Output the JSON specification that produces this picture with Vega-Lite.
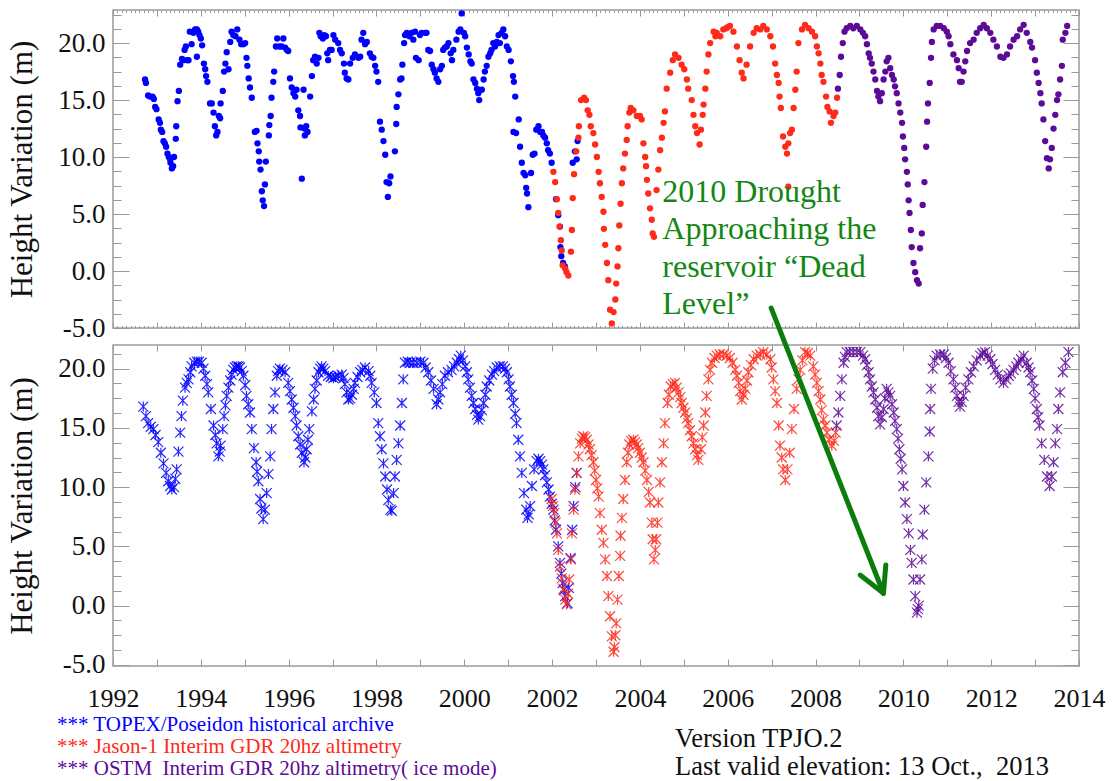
{
  "$schema": "https://vega.github.io/schema/vega-lite/v6.json",
  "background": "white",
  "padding": {"left": 5, "top": 8, "right": 5, "bottom": 0},
  "bounds": "flush",
  "spacing": 17,
  "config": {
    "view": {"stroke": "#9a9a9a", "strokeWidth": 1.5},
    "axis": {"domain": false, "grid": false, "tickColor": "#999999", "tickWidth": 1, "labelFont": "Liberation Serif", "labelFontSize": 27, "labelColor": "#111111", "titleFont": "Liberation Serif", "titleFontSize": 31, "titleFontWeight": "normal", "titleColor": "#111111", "labelFlush": false, "labelOverlap": false}
  },
  "datasets": {
    "top": [
      {"t":1992.73,"h":16.8,"s":"T"},{"t":1992.75,"h":16.5,"s":"T"},{"t":1992.80,"h":15.4,"s":"T"},{"t":1992.84,"h":15.3,"s":"T"},{"t":1992.90,"h":15.3,"s":"T"},{"t":1992.93,"h":15.1,"s":"T"},{"t":1992.96,"h":14.4,"s":"T"},{"t":1992.99,"h":14.2,"s":"T"},{"t":1993.04,"h":13.3,"s":"T"},{"t":1993.07,"h":13.0,"s":"T"},{"t":1993.09,"h":12.4,"s":"T"},{"t":1993.12,"h":12.2,"s":"T"},{"t":1993.15,"h":11.4,"s":"T"},{"t":1993.18,"h":11.2,"s":"T"},{"t":1993.21,"h":10.9,"s":"T"},{"t":1993.24,"h":10.3,"s":"T"},{"t":1993.27,"h":10.0,"s":"T"},{"t":1993.30,"h":9.8,"s":"T"},{"t":1993.31,"h":9.5,"s":"T"},{"t":1993.34,"h":9.0,"s":"T"},{"t":1993.37,"h":9.2,"s":"T"},{"t":1993.39,"h":10.0,"s":"T"},{"t":1993.43,"h":11.6,"s":"T"},{"t":1993.44,"h":12.7,"s":"T"},{"t":1993.47,"h":14.9,"s":"T"},{"t":1993.50,"h":15.8,"s":"T"},{"t":1993.53,"h":18.1,"s":"T"},{"t":1993.57,"h":18.6,"s":"T"},{"t":1993.60,"h":18.5,"s":"T"},{"t":1993.63,"h":19.4,"s":"T"},{"t":1993.66,"h":19.7,"s":"T"},{"t":1993.69,"h":18.5,"s":"T"},{"t":1993.72,"h":18.5,"s":"T"},{"t":1993.75,"h":21.0,"s":"T"},{"t":1993.79,"h":19.9,"s":"T"},{"t":1993.83,"h":20.9,"s":"T"},{"t":1993.87,"h":21.2,"s":"T"},{"t":1993.91,"h":21.2,"s":"T"},{"t":1993.91,"h":18.8,"s":"T"},{"t":1993.94,"h":21.0,"s":"T"},{"t":1993.97,"h":20.7,"s":"T"},{"t":1994.00,"h":20.4,"s":"T"},{"t":1994.03,"h":19.8,"s":"T"},{"t":1994.07,"h":18.2,"s":"T"},{"t":1994.10,"h":17.7,"s":"T"},{"t":1994.12,"h":17.1,"s":"T"},{"t":1994.15,"h":16.6,"s":"T"},{"t":1994.21,"h":14.7,"s":"T"},{"t":1994.25,"h":14.7,"s":"T"},{"t":1994.29,"h":13.9,"s":"T"},{"t":1994.32,"h":12.7,"s":"T"},{"t":1994.35,"h":11.9,"s":"T"},{"t":1994.38,"h":12.2,"s":"T"},{"t":1994.41,"h":13.6,"s":"T"},{"t":1994.44,"h":13.4,"s":"T"},{"t":1994.45,"h":14.7,"s":"T"},{"t":1994.50,"h":15.8,"s":"T"},{"t":1994.53,"h":17.5,"s":"T"},{"t":1994.56,"h":18.2,"s":"T"},{"t":1994.59,"h":19.2,"s":"T"},{"t":1994.63,"h":17.7,"s":"T"},{"t":1994.67,"h":20.1,"s":"T"},{"t":1994.70,"h":21.0,"s":"T"},{"t":1994.74,"h":20.7,"s":"T"},{"t":1994.79,"h":20.6,"s":"T"},{"t":1994.83,"h":21.2,"s":"T"},{"t":1994.88,"h":20.3,"s":"T"},{"t":1994.92,"h":19.9,"s":"T"},{"t":1994.97,"h":19.9,"s":"T"},{"t":1995.01,"h":20.0,"s":"T"},{"t":1995.04,"h":18.7,"s":"T"},{"t":1995.06,"h":18.0,"s":"T"},{"t":1995.09,"h":16.9,"s":"T"},{"t":1995.12,"h":16.1,"s":"T"},{"t":1995.16,"h":15.2,"s":"T"},{"t":1995.23,"h":12.2,"s":"T"},{"t":1995.27,"h":12.3,"s":"T"},{"t":1995.29,"h":11.2,"s":"T"},{"t":1995.32,"h":10.5,"s":"T"},{"t":1995.33,"h":9.6,"s":"T"},{"t":1995.36,"h":8.9,"s":"T"},{"t":1995.39,"h":7.0,"s":"T"},{"t":1995.41,"h":6.2,"s":"T"},{"t":1995.44,"h":5.7,"s":"T"},{"t":1995.46,"h":7.6,"s":"T"},{"t":1995.48,"h":9.6,"s":"T"},{"t":1995.55,"h":11.9,"s":"T"},{"t":1995.56,"h":12.8,"s":"T"},{"t":1995.59,"h":13.6,"s":"T"},{"t":1995.61,"h":15.2,"s":"T"},{"t":1995.65,"h":16.6,"s":"T"},{"t":1995.67,"h":17.5,"s":"T"},{"t":1995.71,"h":19.7,"s":"T"},{"t":1995.74,"h":20.4,"s":"T"},{"t":1995.79,"h":19.7,"s":"T"},{"t":1995.84,"h":19.7,"s":"T"},{"t":1995.88,"h":20.4,"s":"T"},{"t":1995.92,"h":19.6,"s":"T"},{"t":1995.96,"h":19.4,"s":"T"},{"t":1995.99,"h":19.3,"s":"T"},{"t":1996.03,"h":16.9,"s":"T"},{"t":1996.07,"h":16.1,"s":"T"},{"t":1996.11,"h":15.6,"s":"T"},{"t":1996.15,"h":15.3,"s":"T"},{"t":1996.18,"h":15.9,"s":"T"},{"t":1996.22,"h":14.1,"s":"T"},{"t":1996.26,"h":13.6,"s":"T"},{"t":1996.27,"h":12.6,"s":"T"},{"t":1996.30,"h":8.1,"s":"T"},{"t":1996.34,"h":15.9,"s":"T"},{"t":1996.36,"h":12.5,"s":"T"},{"t":1996.37,"h":11.9,"s":"T"},{"t":1996.40,"h":12.7,"s":"T"},{"t":1996.43,"h":12.2,"s":"T"},{"t":1996.49,"h":15.3,"s":"T"},{"t":1996.53,"h":17.1,"s":"T"},{"t":1996.56,"h":18.5,"s":"T"},{"t":1996.60,"h":18.8,"s":"T"},{"t":1996.64,"h":18.2,"s":"T"},{"t":1996.68,"h":18.7,"s":"T"},{"t":1996.70,"h":20.9,"s":"T"},{"t":1996.73,"h":20.6,"s":"T"},{"t":1996.78,"h":20.4,"s":"T"},{"t":1996.81,"h":20.7,"s":"T"},{"t":1996.85,"h":20.6,"s":"T"},{"t":1996.88,"h":19.1,"s":"T"},{"t":1996.90,"h":18.5,"s":"T"},{"t":1996.94,"h":19.4,"s":"T"},{"t":1996.98,"h":19.4,"s":"T"},{"t":1997.02,"h":20.7,"s":"T"},{"t":1997.06,"h":20.3,"s":"T"},{"t":1997.13,"h":20.0,"s":"T"},{"t":1997.17,"h":19.4,"s":"T"},{"t":1997.21,"h":19.1,"s":"T"},{"t":1997.26,"h":18.2,"s":"T"},{"t":1997.28,"h":17.4,"s":"T"},{"t":1997.32,"h":16.9,"s":"T"},{"t":1997.36,"h":16.8,"s":"T"},{"t":1997.40,"h":18.2,"s":"T"},{"t":1997.46,"h":18.7,"s":"T"},{"t":1997.51,"h":19.0,"s":"T"},{"t":1997.59,"h":18.7,"s":"T"},{"t":1997.63,"h":18.8,"s":"T"},{"t":1997.66,"h":20.3,"s":"T"},{"t":1997.70,"h":20.9,"s":"T"},{"t":1997.74,"h":19.9,"s":"T"},{"t":1997.78,"h":20.1,"s":"T"},{"t":1997.85,"h":19.1,"s":"T"},{"t":1997.89,"h":18.8,"s":"T"},{"t":1997.93,"h":18.7,"s":"T"},{"t":1997.97,"h":18.0,"s":"T"},{"t":1998.00,"h":17.5,"s":"T"},{"t":1998.04,"h":16.6,"s":"T"},{"t":1998.08,"h":13.1,"s":"T"},{"t":1998.12,"h":12.4,"s":"T"},{"t":1998.16,"h":11.4,"s":"T"},{"t":1998.20,"h":10.2,"s":"T"},{"t":1998.23,"h":7.8,"s":"T"},{"t":1998.26,"h":6.5,"s":"T"},{"t":1998.29,"h":7.7,"s":"T"},{"t":1998.32,"h":8.3,"s":"T"},{"t":1998.42,"h":10.5,"s":"T"},{"t":1998.45,"h":12.9,"s":"T"},{"t":1998.46,"h":14.4,"s":"T"},{"t":1998.50,"h":15.5,"s":"T"},{"t":1998.54,"h":16.8,"s":"T"},{"t":1998.57,"h":16.9,"s":"T"},{"t":1998.59,"h":18.1,"s":"T"},{"t":1998.63,"h":20.0,"s":"T"},{"t":1998.65,"h":20.7,"s":"T"},{"t":1998.69,"h":20.9,"s":"T"},{"t":1998.75,"h":20.6,"s":"T"},{"t":1998.80,"h":20.9,"s":"T"},{"t":1998.84,"h":20.3,"s":"T"},{"t":1998.88,"h":21.0,"s":"T"},{"t":1998.90,"h":18.7,"s":"T"},{"t":1998.96,"h":18.5,"s":"T"},{"t":1998.99,"h":20.7,"s":"T"},{"t":1999.03,"h":20.9,"s":"T"},{"t":1999.11,"h":20.9,"s":"T"},{"t":1999.14,"h":20.9,"s":"T"},{"t":1999.18,"h":19.4,"s":"T"},{"t":1999.22,"h":19.3,"s":"T"},{"t":1999.26,"h":18.1,"s":"T"},{"t":1999.30,"h":17.7,"s":"T"},{"t":1999.33,"h":17.4,"s":"T"},{"t":1999.37,"h":16.9,"s":"T"},{"t":1999.41,"h":16.6,"s":"T"},{"t":1999.45,"h":17.7,"s":"T"},{"t":1999.49,"h":18.0,"s":"T"},{"t":1999.52,"h":19.4,"s":"T"},{"t":1999.56,"h":19.6,"s":"T"},{"t":1999.60,"h":19.7,"s":"T"},{"t":1999.64,"h":20.0,"s":"T"},{"t":1999.69,"h":19.1,"s":"T"},{"t":1999.72,"h":18.5,"s":"T"},{"t":1999.75,"h":19.4,"s":"T"},{"t":1999.82,"h":20.3,"s":"T"},{"t":1999.87,"h":21.0,"s":"T"},{"t":1999.91,"h":21.2,"s":"T"},{"t":1999.94,"h":22.6,"s":"T"},{"t":1999.99,"h":20.9,"s":"T"},{"t":2000.02,"h":20.6,"s":"T"},{"t":2000.06,"h":19.6,"s":"T"},{"t":2000.10,"h":19.0,"s":"T"},{"t":2000.14,"h":18.4,"s":"T"},{"t":2000.17,"h":18.2,"s":"T"},{"t":2000.21,"h":16.8,"s":"T"},{"t":2000.25,"h":16.5,"s":"T"},{"t":2000.29,"h":16.0,"s":"T"},{"t":2000.32,"h":15.6,"s":"T"},{"t":2000.34,"h":15.0,"s":"T"},{"t":2000.40,"h":15.9,"s":"T"},{"t":2000.44,"h":16.8,"s":"T"},{"t":2000.47,"h":17.5,"s":"T"},{"t":2000.51,"h":18.0,"s":"T"},{"t":2000.55,"h":18.8,"s":"T"},{"t":2000.59,"h":19.1,"s":"T"},{"t":2000.62,"h":19.4,"s":"T"},{"t":2000.66,"h":20.0,"s":"T"},{"t":2000.70,"h":19.7,"s":"T"},{"t":2000.74,"h":20.1,"s":"T"},{"t":2000.78,"h":20.7,"s":"T"},{"t":2000.81,"h":20.0,"s":"T"},{"t":2000.85,"h":20.9,"s":"T"},{"t":2000.89,"h":21.2,"s":"T"},{"t":2000.93,"h":20.6,"s":"T"},{"t":2000.97,"h":19.7,"s":"T"},{"t":2001.01,"h":19.4,"s":"T"},{"t":2001.06,"h":18.4,"s":"T"},{"t":2001.11,"h":17.1,"s":"T"},{"t":2001.13,"h":16.6,"s":"T"},{"t":2001.16,"h":15.3,"s":"T"},{"t":2001.12,"h":12.2,"s":"T"},{"t":2001.18,"h":12.1,"s":"T"},{"t":2001.24,"h":13.3,"s":"T"},{"t":2001.27,"h":10.9,"s":"T"},{"t":2001.31,"h":9.5,"s":"T"},{"t":2001.35,"h":8.6,"s":"T"},{"t":2001.39,"h":8.4,"s":"T"},{"t":2001.41,"h":7.3,"s":"T"},{"t":2001.43,"h":6.8,"s":"T"},{"t":2001.46,"h":5.6,"s":"T"},{"t":2001.52,"h":8.6,"s":"T"},{"t":2001.56,"h":10.2,"s":"T"},{"t":2001.60,"h":10.3,"s":"T"},{"t":2001.64,"h":12.4,"s":"T"},{"t":2001.69,"h":12.7,"s":"T"},{"t":2001.73,"h":12.2,"s":"T"},{"t":2001.77,"h":12.2,"s":"T"},{"t":2001.80,"h":11.9,"s":"T"},{"t":2001.84,"h":11.7,"s":"T"},{"t":2001.88,"h":11.2,"s":"T"},{"t":2001.91,"h":10.6,"s":"T"},{"t":2001.95,"h":10.3,"s":"T"},{"t":2001.99,"h":9.5,"s":"T"},{"t":2002.09,"h":6.3,"s":"T"},{"t":2002.14,"h":4.9,"s":"T"},{"t":2002.18,"h":3.9,"s":"T"},{"t":2002.19,"h":2.1,"s":"T"},{"t":2002.21,"h":1.3,"s":"T"},{"t":2002.25,"h":0.7,"s":"T"},{"t":2002.29,"h":0.4,"s":"T"},{"t":2002.47,"h":9.5,"s":"T"},{"t":2002.52,"h":10.5,"s":"T"},{"t":2002.56,"h":9.8,"s":"T"},{"t":2002.58,"h":11.4,"s":"T"},
      {"t":2002.03,"h":8.7,"s":"J"},{"t":2002.07,"h":7.8,"s":"J"},{"t":2002.11,"h":6.3,"s":"J"},{"t":2002.14,"h":5.1,"s":"J"},{"t":2002.17,"h":3.9,"s":"J"},{"t":2002.20,"h":2.7,"s":"J"},{"t":2002.22,"h":1.8,"s":"J"},{"t":2002.24,"h":0.5,"s":"J"},{"t":2002.30,"h":0.2,"s":"J"},{"t":2002.33,"h":-0.1,"s":"J"},{"t":2002.37,"h":-0.4,"s":"J"},{"t":2002.43,"h":1.7,"s":"J"},{"t":2002.45,"h":3.6,"s":"J"},{"t":2002.47,"h":6.4,"s":"J"},{"t":2002.50,"h":8.5,"s":"J"},{"t":2002.55,"h":10.5,"s":"J"},{"t":2002.60,"h":11.7,"s":"J"},{"t":2002.61,"h":12.7,"s":"J"},{"t":2002.66,"h":15.0,"s":"J"},{"t":2002.73,"h":15.2,"s":"J"},{"t":2002.77,"h":15.0,"s":"J"},{"t":2002.81,"h":14.1,"s":"J"},{"t":2002.85,"h":13.7,"s":"J"},{"t":2002.88,"h":12.7,"s":"J"},{"t":2002.94,"h":12.1,"s":"J"},{"t":2002.98,"h":11.1,"s":"J"},{"t":2003.02,"h":10.0,"s":"J"},{"t":2003.06,"h":8.7,"s":"J"},{"t":2003.09,"h":7.7,"s":"J"},{"t":2003.13,"h":6.5,"s":"J"},{"t":2003.17,"h":5.2,"s":"J"},{"t":2003.18,"h":3.7,"s":"J"},{"t":2003.21,"h":2.3,"s":"J"},{"t":2003.25,"h":0.7,"s":"J"},{"t":2003.28,"h":-0.8,"s":"J"},{"t":2003.32,"h":-3.4,"s":"J"},{"t":2003.36,"h":-4.6,"s":"J"},{"t":2003.40,"h":-3.6,"s":"J"},{"t":2003.44,"h":-2.5,"s":"J"},{"t":2003.46,"h":-1.1,"s":"J"},{"t":2003.49,"h":0.4,"s":"J"},{"t":2003.51,"h":2.0,"s":"J"},{"t":2003.53,"h":4.0,"s":"J"},{"t":2003.56,"h":5.9,"s":"J"},{"t":2003.59,"h":7.7,"s":"J"},{"t":2003.62,"h":9.0,"s":"J"},{"t":2003.66,"h":10.3,"s":"J"},{"t":2003.70,"h":11.5,"s":"J"},{"t":2003.72,"h":12.7,"s":"J"},{"t":2003.76,"h":13.9,"s":"J"},{"t":2003.79,"h":14.3,"s":"J"},{"t":2003.85,"h":14.1,"s":"J"},{"t":2003.93,"h":13.6,"s":"J"},{"t":2004.00,"h":13.6,"s":"J"},{"t":2004.04,"h":13.3,"s":"J"},{"t":2004.08,"h":11.2,"s":"J"},{"t":2004.12,"h":10.0,"s":"J"},{"t":2004.14,"h":9.2,"s":"J"},{"t":2004.16,"h":8.0,"s":"J"},{"t":2004.19,"h":6.8,"s":"J"},{"t":2004.23,"h":5.5,"s":"J"},{"t":2004.27,"h":4.5,"s":"J"},{"t":2004.29,"h":3.3,"s":"J"},{"t":2004.32,"h":3.0,"s":"J"},{"t":2004.38,"h":7.1,"s":"J"},{"t":2004.42,"h":8.9,"s":"J"},{"t":2004.46,"h":10.6,"s":"J"},{"t":2004.50,"h":11.7,"s":"J"},{"t":2004.54,"h":13.0,"s":"J"},{"t":2004.57,"h":14.0,"s":"J"},{"t":2004.61,"h":16.0,"s":"J"},{"t":2004.69,"h":17.4,"s":"J"},{"t":2004.75,"h":18.5,"s":"J"},{"t":2004.80,"h":19.0,"s":"J"},{"t":2004.88,"h":18.7,"s":"J"},{"t":2004.95,"h":18.1,"s":"J"},{"t":2005.01,"h":17.7,"s":"J"},{"t":2005.07,"h":16.8,"s":"J"},{"t":2005.10,"h":16.0,"s":"J"},{"t":2005.18,"h":15.0,"s":"J"},{"t":2005.22,"h":13.7,"s":"J"},{"t":2005.26,"h":12.7,"s":"J"},{"t":2005.30,"h":12.1,"s":"J"},{"t":2005.36,"h":11.1,"s":"J"},{"t":2005.39,"h":12.4,"s":"J"},{"t":2005.43,"h":13.7,"s":"J"},{"t":2005.45,"h":14.6,"s":"J"},{"t":2005.49,"h":16.0,"s":"J"},{"t":2005.52,"h":17.5,"s":"J"},{"t":2005.56,"h":19.0,"s":"J"},{"t":2005.60,"h":20.0,"s":"J"},{"t":2005.68,"h":21.0,"s":"J"},{"t":2005.72,"h":20.6,"s":"J"},{"t":2005.75,"h":20.9,"s":"J"},{"t":2005.83,"h":20.6,"s":"J"},{"t":2005.90,"h":21.2,"s":"J"},{"t":2005.97,"h":21.3,"s":"J"},{"t":2006.00,"h":21.4,"s":"J"},{"t":2006.05,"h":21.5,"s":"J"},{"t":2006.13,"h":21.0,"s":"J"},{"t":2006.21,"h":19.7,"s":"J"},{"t":2006.27,"h":18.5,"s":"J"},{"t":2006.32,"h":17.4,"s":"J"},{"t":2006.36,"h":16.9,"s":"J"},{"t":2006.43,"h":18.1,"s":"J"},{"t":2006.51,"h":19.7,"s":"J"},{"t":2006.59,"h":20.9,"s":"J"},{"t":2006.66,"h":21.3,"s":"J"},{"t":2006.74,"h":21.2,"s":"J"},{"t":2006.81,"h":21.5,"s":"J"},{"t":2006.89,"h":21.2,"s":"J"},{"t":2006.97,"h":20.6,"s":"J"},{"t":2007.03,"h":19.7,"s":"J"},{"t":2007.08,"h":18.2,"s":"J"},{"t":2007.12,"h":17.2,"s":"J"},{"t":2007.16,"h":16.5,"s":"J"},{"t":2007.18,"h":15.3,"s":"J"},{"t":2007.21,"h":14.3,"s":"J"},{"t":2007.26,"h":11.8,"s":"J"},{"t":2007.31,"h":10.9,"s":"J"},{"t":2007.35,"h":10.3,"s":"J"},{"t":2007.38,"h":11.2,"s":"J"},{"t":2007.38,"h":7.4,"s":"J"},{"t":2007.42,"h":12.1,"s":"J"},{"t":2007.46,"h":12.4,"s":"J"},{"t":2007.50,"h":14.3,"s":"J"},{"t":2007.54,"h":15.9,"s":"J"},{"t":2007.57,"h":17.5,"s":"J"},{"t":2007.61,"h":20.0,"s":"J"},{"t":2007.69,"h":21.2,"s":"J"},{"t":2007.76,"h":21.6,"s":"J"},{"t":2007.84,"h":21.3,"s":"J"},{"t":2007.92,"h":21.0,"s":"J"},{"t":2007.99,"h":20.6,"s":"J"},{"t":2008.03,"h":19.7,"s":"J"},{"t":2008.07,"h":19.1,"s":"J"},{"t":2008.11,"h":18.2,"s":"J"},{"t":2008.14,"h":17.2,"s":"J"},{"t":2008.18,"h":16.6,"s":"J"},{"t":2008.24,"h":15.3,"s":"J"},{"t":2008.27,"h":14.4,"s":"J"},{"t":2008.32,"h":14.0,"s":"J"},{"t":2008.35,"h":13.0,"s":"J"},{"t":2008.41,"h":13.6,"s":"J"},{"t":2008.45,"h":13.9,"s":"J"},{"t":2008.49,"h":15.2,"s":"J"},
      {"t":2008.51,"h":16.0,"s":"O"},{"t":2008.55,"h":17.2,"s":"O"},{"t":2008.58,"h":18.8,"s":"O"},{"t":2008.62,"h":20.0,"s":"O"},{"t":2008.66,"h":21.0,"s":"O"},{"t":2008.71,"h":21.3,"s":"O"},{"t":2008.79,"h":21.5,"s":"O"},{"t":2008.86,"h":21.3,"s":"O"},{"t":2008.94,"h":21.5,"s":"O"},{"t":2009.02,"h":21.2,"s":"O"},{"t":2009.08,"h":20.9,"s":"O"},{"t":2009.13,"h":20.6,"s":"O"},{"t":2009.17,"h":19.9,"s":"O"},{"t":2009.21,"h":19.1,"s":"O"},{"t":2009.24,"h":18.7,"s":"O"},{"t":2009.28,"h":18.2,"s":"O"},{"t":2009.32,"h":17.5,"s":"O"},{"t":2009.36,"h":16.8,"s":"O"},{"t":2009.40,"h":15.8,"s":"O"},{"t":2009.43,"h":15.3,"s":"O"},{"t":2009.47,"h":14.9,"s":"O"},{"t":2009.51,"h":15.6,"s":"O"},{"t":2009.55,"h":16.8,"s":"O"},{"t":2009.59,"h":17.5,"s":"O"},{"t":2009.62,"h":18.4,"s":"O"},{"t":2009.66,"h":18.7,"s":"O"},{"t":2009.70,"h":17.8,"s":"O"},{"t":2009.74,"h":17.2,"s":"O"},{"t":2009.78,"h":16.8,"s":"O"},{"t":2009.81,"h":16.2,"s":"O"},{"t":2009.85,"h":15.6,"s":"O"},{"t":2009.89,"h":14.7,"s":"O"},{"t":2009.93,"h":13.9,"s":"O"},{"t":2009.97,"h":13.0,"s":"O"},{"t":2009.99,"h":11.8,"s":"O"},{"t":2010.02,"h":10.8,"s":"O"},{"t":2010.04,"h":9.8,"s":"O"},{"t":2010.08,"h":8.7,"s":"O"},{"t":2010.10,"h":7.6,"s":"O"},{"t":2010.12,"h":6.2,"s":"O"},{"t":2010.14,"h":5.1,"s":"O"},{"t":2010.17,"h":3.6,"s":"O"},{"t":2010.19,"h":2.1,"s":"O"},{"t":2010.23,"h":0.7,"s":"O"},{"t":2010.27,"h":-0.1,"s":"O"},{"t":2010.31,"h":-0.8,"s":"O"},{"t":2010.35,"h":-1.1,"s":"O"},{"t":2010.38,"h":2.0,"s":"O"},{"t":2010.42,"h":3.3,"s":"O"},{"t":2010.44,"h":5.8,"s":"O"},{"t":2010.48,"h":7.8,"s":"O"},{"t":2010.52,"h":10.9,"s":"O"},{"t":2010.54,"h":13.1,"s":"O"},{"t":2010.56,"h":14.7,"s":"O"},{"t":2010.60,"h":16.5,"s":"O"},{"t":2010.63,"h":18.7,"s":"O"},{"t":2010.65,"h":20.1,"s":"O"},{"t":2010.69,"h":21.2,"s":"O"},{"t":2010.76,"h":21.5,"s":"O"},{"t":2010.84,"h":21.5,"s":"O"},{"t":2010.92,"h":21.3,"s":"O"},{"t":2010.99,"h":21.0,"s":"O"},{"t":2011.03,"h":20.6,"s":"O"},{"t":2011.07,"h":19.9,"s":"O"},{"t":2011.14,"h":19.0,"s":"O"},{"t":2011.22,"h":18.5,"s":"O"},{"t":2011.26,"h":17.8,"s":"O"},{"t":2011.29,"h":16.6,"s":"O"},{"t":2011.33,"h":16.6,"s":"O"},{"t":2011.37,"h":17.5,"s":"O"},{"t":2011.41,"h":18.4,"s":"O"},{"t":2011.45,"h":19.3,"s":"O"},{"t":2011.52,"h":20.0,"s":"O"},{"t":2011.60,"h":20.3,"s":"O"},{"t":2011.67,"h":20.9,"s":"O"},{"t":2011.75,"h":21.3,"s":"O"},{"t":2011.83,"h":21.6,"s":"O"},{"t":2011.90,"h":21.3,"s":"O"},{"t":2011.98,"h":20.9,"s":"O"},{"t":2012.05,"h":20.3,"s":"O"},{"t":2012.13,"h":19.7,"s":"O"},{"t":2012.21,"h":18.8,"s":"O"},{"t":2012.28,"h":18.7,"s":"O"},{"t":2012.36,"h":19.0,"s":"O"},{"t":2012.43,"h":19.7,"s":"O"},{"t":2012.51,"h":20.3,"s":"O"},{"t":2012.59,"h":20.6,"s":"O"},{"t":2012.66,"h":21.2,"s":"O"},{"t":2012.74,"h":21.6,"s":"O"},{"t":2012.81,"h":20.9,"s":"O"},{"t":2012.89,"h":20.1,"s":"O"},{"t":2012.93,"h":19.6,"s":"O"},{"t":2013.00,"h":18.5,"s":"O"},{"t":2013.04,"h":17.4,"s":"O"},{"t":2013.08,"h":16.5,"s":"O"},{"t":2013.12,"h":15.6,"s":"O"},{"t":2013.15,"h":14.7,"s":"O"},{"t":2013.19,"h":13.3,"s":"O"},{"t":2013.23,"h":11.4,"s":"O"},{"t":2013.27,"h":9.9,"s":"O"},{"t":2013.31,"h":9.0,"s":"O"},{"t":2013.34,"h":9.8,"s":"O"},{"t":2013.38,"h":10.8,"s":"O"},{"t":2013.42,"h":12.5,"s":"O"},{"t":2013.46,"h":13.7,"s":"O"},{"t":2013.50,"h":15.0,"s":"O"},{"t":2013.53,"h":15.5,"s":"O"},{"t":2013.57,"h":16.8,"s":"O"},{"t":2013.61,"h":18.0,"s":"O"},{"t":2013.63,"h":20.3,"s":"O"},{"t":2013.69,"h":20.9,"s":"O"},{"t":2013.73,"h":21.5,"s":"O"}
    ],
    "bottom": [
      {"t":1992.69,"h":16.8,"s":"T"},{"t":1992.75,"h":16.0,"s":"T"},{"t":1992.80,"h":15.4,"s":"T"},{"t":1992.86,"h":15.1,"s":"T"},{"t":1992.92,"h":14.9,"s":"T"},{"t":1992.97,"h":14.4,"s":"T"},{"t":1993.03,"h":13.8,"s":"T"},{"t":1993.09,"h":12.9,"s":"T"},{"t":1993.15,"h":12.0,"s":"T"},{"t":1993.21,"h":11.2,"s":"T"},{"t":1993.26,"h":10.5,"s":"T"},{"t":1993.30,"h":10.1,"s":"T"},{"t":1993.34,"h":9.8,"s":"T"},{"t":1993.39,"h":10.0,"s":"T"},{"t":1993.42,"h":10.7,"s":"T"},{"t":1993.45,"h":11.5,"s":"T"},{"t":1993.49,"h":13.0,"s":"T"},{"t":1993.53,"h":14.6,"s":"T"},{"t":1993.56,"h":16.0,"s":"T"},{"t":1993.59,"h":17.3,"s":"T"},{"t":1993.64,"h":18.4,"s":"T"},{"t":1993.68,"h":18.8,"s":"T"},{"t":1993.72,"h":19.1,"s":"T"},{"t":1993.76,"h":19.7,"s":"T"},{"t":1993.79,"h":20.2,"s":"T"},{"t":1993.85,"h":20.5,"s":"T"},{"t":1993.91,"h":20.6,"s":"T"},{"t":1993.96,"h":20.6,"s":"T"},{"t":1994.02,"h":20.5,"s":"T"},{"t":1994.06,"h":20.0,"s":"T"},{"t":1994.10,"h":19.4,"s":"T"},{"t":1994.14,"h":18.7,"s":"T"},{"t":1994.17,"h":18.0,"s":"T"},{"t":1994.23,"h":16.6,"s":"T"},{"t":1994.29,"h":15.2,"s":"T"},{"t":1994.33,"h":14.4,"s":"T"},{"t":1994.36,"h":13.7,"s":"T"},{"t":1994.40,"h":12.6,"s":"T"},{"t":1994.43,"h":13.0,"s":"T"},{"t":1994.45,"h":13.5,"s":"T"},{"t":1994.50,"h":14.9,"s":"T"},{"t":1994.53,"h":16.0,"s":"T"},{"t":1994.56,"h":16.9,"s":"T"},{"t":1994.59,"h":17.7,"s":"T"},{"t":1994.63,"h":18.4,"s":"T"},{"t":1994.67,"h":19.0,"s":"T"},{"t":1994.70,"h":19.5,"s":"T"},{"t":1994.74,"h":19.9,"s":"T"},{"t":1994.78,"h":20.1,"s":"T"},{"t":1994.82,"h":20.2,"s":"T"},{"t":1994.86,"h":20.2,"s":"T"},{"t":1994.89,"h":20.1,"s":"T"},{"t":1994.93,"h":19.8,"s":"T"},{"t":1994.97,"h":19.4,"s":"T"},{"t":1995.01,"h":18.6,"s":"T"},{"t":1995.04,"h":17.7,"s":"T"},{"t":1995.08,"h":17.0,"s":"T"},{"t":1995.12,"h":16.3,"s":"T"},{"t":1995.16,"h":14.9,"s":"T"},{"t":1995.21,"h":13.3,"s":"T"},{"t":1995.26,"h":12.1,"s":"T"},{"t":1995.28,"h":11.3,"s":"T"},{"t":1995.31,"h":10.5,"s":"T"},{"t":1995.35,"h":9.0,"s":"T"},{"t":1995.38,"h":8.2,"s":"T"},{"t":1995.42,"h":7.3,"s":"T"},{"t":1995.46,"h":8.1,"s":"T"},{"t":1995.50,"h":9.5,"s":"T"},{"t":1995.54,"h":11.1,"s":"T"},{"t":1995.58,"h":12.6,"s":"T"},{"t":1995.61,"h":14.9,"s":"T"},{"t":1995.65,"h":16.6,"s":"T"},{"t":1995.69,"h":18.0,"s":"T"},{"t":1995.73,"h":19.4,"s":"T"},{"t":1995.76,"h":19.8,"s":"T"},{"t":1995.80,"h":20.0,"s":"T"},{"t":1995.86,"h":19.9,"s":"T"},{"t":1995.92,"h":19.7,"s":"T"},{"t":1995.99,"h":18.8,"s":"T"},{"t":1996.03,"h":18.1,"s":"T"},{"t":1996.07,"h":17.4,"s":"T"},{"t":1996.11,"h":16.7,"s":"T"},{"t":1996.15,"h":16.0,"s":"T"},{"t":1996.18,"h":15.2,"s":"T"},{"t":1996.22,"h":14.3,"s":"T"},{"t":1996.26,"h":13.6,"s":"T"},{"t":1996.30,"h":12.9,"s":"T"},{"t":1996.35,"h":12.1,"s":"T"},{"t":1996.38,"h":12.5,"s":"T"},{"t":1996.41,"h":13.2,"s":"T"},{"t":1996.44,"h":14.0,"s":"T"},{"t":1996.47,"h":14.9,"s":"T"},{"t":1996.53,"h":16.4,"s":"T"},{"t":1996.57,"h":17.4,"s":"T"},{"t":1996.60,"h":18.3,"s":"T"},{"t":1996.64,"h":19.0,"s":"T"},{"t":1996.68,"h":19.7,"s":"T"},{"t":1996.72,"h":20.0,"s":"T"},{"t":1996.75,"h":20.2,"s":"T"},{"t":1996.79,"h":20.0,"s":"T"},{"t":1996.83,"h":19.8,"s":"T"},{"t":1996.90,"h":19.4,"s":"T"},{"t":1996.96,"h":19.3,"s":"T"},{"t":1997.02,"h":19.2,"s":"T"},{"t":1997.07,"h":19.3,"s":"T"},{"t":1997.13,"h":19.4,"s":"T"},{"t":1997.21,"h":19.5,"s":"T"},{"t":1997.25,"h":19.2,"s":"T"},{"t":1997.28,"h":18.7,"s":"T"},{"t":1997.32,"h":18.0,"s":"T"},{"t":1997.36,"h":17.4,"s":"T"},{"t":1997.40,"h":17.5,"s":"T"},{"t":1997.44,"h":17.8,"s":"T"},{"t":1997.48,"h":18.3,"s":"T"},{"t":1997.51,"h":18.8,"s":"T"},{"t":1997.57,"h":19.3,"s":"T"},{"t":1997.63,"h":19.7,"s":"T"},{"t":1997.68,"h":19.9,"s":"T"},{"t":1997.74,"h":20.1,"s":"T"},{"t":1997.82,"h":19.8,"s":"T"},{"t":1997.86,"h":19.4,"s":"T"},{"t":1997.89,"h":18.8,"s":"T"},{"t":1997.95,"h":18.0,"s":"T"},{"t":1998.00,"h":17.1,"s":"T"},{"t":1998.04,"h":15.4,"s":"T"},{"t":1998.08,"h":14.3,"s":"T"},{"t":1998.12,"h":13.2,"s":"T"},{"t":1998.16,"h":12.0,"s":"T"},{"t":1998.20,"h":10.9,"s":"T"},{"t":1998.24,"h":9.8,"s":"T"},{"t":1998.27,"h":8.9,"s":"T"},{"t":1998.32,"h":8.1,"s":"T"},{"t":1998.35,"h":8.0,"s":"T"},{"t":1998.39,"h":9.5,"s":"T"},{"t":1998.42,"h":10.9,"s":"T"},{"t":1998.46,"h":12.3,"s":"T"},{"t":1998.50,"h":13.7,"s":"T"},{"t":1998.54,"h":15.2,"s":"T"},{"t":1998.58,"h":17.1,"s":"T"},{"t":1998.61,"h":19.1,"s":"T"},{"t":1998.65,"h":20.5,"s":"T"},{"t":1998.71,"h":20.6,"s":"T"},{"t":1998.77,"h":20.5,"s":"T"},{"t":1998.84,"h":20.5,"s":"T"},{"t":1998.92,"h":20.5,"s":"T"},{"t":1999.00,"h":20.6,"s":"T"},{"t":1999.07,"h":20.5,"s":"T"},{"t":1999.12,"h":20.1,"s":"T"},{"t":1999.18,"h":19.7,"s":"T"},{"t":1999.24,"h":19.0,"s":"T"},{"t":1999.30,"h":18.3,"s":"T"},{"t":1999.37,"h":17.0,"s":"T"},{"t":1999.41,"h":17.4,"s":"T"},{"t":1999.45,"h":18.0,"s":"T"},{"t":1999.50,"h":18.7,"s":"T"},{"t":1999.56,"h":19.4,"s":"T"},{"t":1999.63,"h":19.7,"s":"T"},{"t":1999.71,"h":19.9,"s":"T"},{"t":1999.77,"h":20.2,"s":"T"},{"t":1999.83,"h":20.5,"s":"T"},{"t":1999.88,"h":20.8,"s":"T"},{"t":1999.92,"h":21.1,"s":"T"},{"t":1999.97,"h":20.7,"s":"T"},{"t":2000.02,"h":20.2,"s":"T"},{"t":2000.06,"h":19.7,"s":"T"},{"t":2000.09,"h":19.1,"s":"T"},{"t":2000.13,"h":18.4,"s":"T"},{"t":2000.17,"h":17.7,"s":"T"},{"t":2000.21,"h":17.1,"s":"T"},{"t":2000.25,"h":16.6,"s":"T"},{"t":2000.29,"h":16.1,"s":"T"},{"t":2000.32,"h":15.7,"s":"T"},{"t":2000.36,"h":16.0,"s":"T"},{"t":2000.40,"h":16.5,"s":"T"},{"t":2000.44,"h":17.1,"s":"T"},{"t":2000.48,"h":17.8,"s":"T"},{"t":2000.51,"h":18.5,"s":"T"},{"t":2000.57,"h":19.0,"s":"T"},{"t":2000.63,"h":19.5,"s":"T"},{"t":2000.68,"h":19.8,"s":"T"},{"t":2000.74,"h":20.1,"s":"T"},{"t":2000.81,"h":20.2,"s":"T"},{"t":2000.88,"h":20.2,"s":"T"},{"t":2000.93,"h":20.0,"s":"T"},{"t":2000.97,"h":19.7,"s":"T"},{"t":2001.01,"h":19.1,"s":"T"},{"t":2001.04,"h":18.5,"s":"T"},{"t":2001.08,"h":17.8,"s":"T"},{"t":2001.12,"h":17.1,"s":"T"},{"t":2001.16,"h":16.2,"s":"T"},{"t":2001.19,"h":15.4,"s":"T"},{"t":2001.23,"h":14.0,"s":"T"},{"t":2001.27,"h":12.6,"s":"T"},{"t":2001.31,"h":11.2,"s":"T"},{"t":2001.36,"h":9.5,"s":"T"},{"t":2001.41,"h":8.1,"s":"T"},{"t":2001.44,"h":7.4,"s":"T"},{"t":2001.47,"h":7.7,"s":"T"},{"t":2001.50,"h":8.4,"s":"T"},{"t":2001.54,"h":10.1,"s":"T"},{"t":2001.59,"h":11.5,"s":"T"},{"t":2001.65,"h":12.2,"s":"T"},{"t":2001.69,"h":12.4,"s":"T"},{"t":2001.73,"h":12.2,"s":"T"},{"t":2001.77,"h":11.9,"s":"T"},{"t":2001.80,"h":11.5,"s":"T"},{"t":2001.84,"h":11.0,"s":"T"},{"t":2001.88,"h":10.4,"s":"T"},{"t":2001.92,"h":9.8,"s":"T"},{"t":2001.95,"h":9.2,"s":"T"},{"t":2001.99,"h":8.6,"s":"T"},{"t":2002.03,"h":8.1,"s":"T"},{"t":2002.06,"h":7.2,"s":"T"},{"t":2002.09,"h":6.4,"s":"T"},{"t":2002.14,"h":5.0,"s":"T"},{"t":2002.18,"h":3.6,"s":"T"},{"t":2002.21,"h":2.7,"s":"T"},{"t":2002.24,"h":1.9,"s":"T"},{"t":2002.27,"h":1.3,"s":"T"},{"t":2002.30,"h":0.8,"s":"T"},{"t":2002.35,"h":0.2,"s":"T"},{"t":2002.38,"h":1.5,"s":"T"},{"t":2002.42,"h":4.0,"s":"T"},{"t":2002.46,"h":6.4,"s":"T"},{"t":2002.49,"h":8.4,"s":"T"},{"t":2002.53,"h":10.0,"s":"T"},{"t":2002.56,"h":11.2,"s":"T"},
      {"t":2001.99,"h":9.0,"s":"J"},{"t":2002.02,"h":8.4,"s":"J"},{"t":2002.05,"h":7.8,"s":"J"},{"t":2002.08,"h":7.0,"s":"J"},{"t":2002.11,"h":6.1,"s":"J"},{"t":2002.14,"h":4.7,"s":"J"},{"t":2002.18,"h":3.3,"s":"J"},{"t":2002.22,"h":2.3,"s":"J"},{"t":2002.26,"h":1.4,"s":"J"},{"t":2002.30,"h":0.5,"s":"J"},{"t":2002.33,"h":0.1,"s":"J"},{"t":2002.36,"h":1.0,"s":"J"},{"t":2002.39,"h":2.2,"s":"J"},{"t":2002.43,"h":3.9,"s":"J"},{"t":2002.45,"h":6.1,"s":"J"},{"t":2002.49,"h":8.1,"s":"J"},{"t":2002.52,"h":9.8,"s":"J"},{"t":2002.56,"h":11.2,"s":"J"},{"t":2002.60,"h":12.6,"s":"J"},{"t":2002.64,"h":13.7,"s":"J"},{"t":2002.68,"h":14.1,"s":"J"},{"t":2002.71,"h":14.3,"s":"J"},{"t":2002.75,"h":14.2,"s":"J"},{"t":2002.79,"h":14.0,"s":"J"},{"t":2002.83,"h":13.6,"s":"J"},{"t":2002.86,"h":13.2,"s":"J"},{"t":2002.90,"h":12.7,"s":"J"},{"t":2002.94,"h":12.1,"s":"J"},{"t":2002.97,"h":11.4,"s":"J"},{"t":2003.00,"h":10.6,"s":"J"},{"t":2003.03,"h":9.9,"s":"J"},{"t":2003.06,"h":9.2,"s":"J"},{"t":2003.09,"h":7.8,"s":"J"},{"t":2003.13,"h":6.4,"s":"J"},{"t":2003.17,"h":5.3,"s":"J"},{"t":2003.21,"h":3.9,"s":"J"},{"t":2003.25,"h":2.5,"s":"J"},{"t":2003.28,"h":0.8,"s":"J"},{"t":2003.32,"h":-0.9,"s":"J"},{"t":2003.36,"h":-2.6,"s":"J"},{"t":2003.40,"h":-3.9,"s":"J"},{"t":2003.42,"h":-3.5,"s":"J"},{"t":2003.44,"h":-2.5,"s":"J"},{"t":2003.46,"h":-1.5,"s":"J"},{"t":2003.49,"h":0.5,"s":"J"},{"t":2003.52,"h":2.5,"s":"J"},{"t":2003.55,"h":4.2,"s":"J"},{"t":2003.56,"h":5.9,"s":"J"},{"t":2003.59,"h":7.4,"s":"J"},{"t":2003.62,"h":9.0,"s":"J"},{"t":2003.66,"h":10.6,"s":"J"},{"t":2003.70,"h":12.1,"s":"J"},{"t":2003.73,"h":12.9,"s":"J"},{"t":2003.76,"h":13.6,"s":"J"},{"t":2003.80,"h":13.9,"s":"J"},{"t":2003.85,"h":14.0,"s":"J"},{"t":2003.89,"h":13.8,"s":"J"},{"t":2003.93,"h":13.6,"s":"J"},{"t":2003.96,"h":13.3,"s":"J"},{"t":2004.00,"h":12.9,"s":"J"},{"t":2004.04,"h":12.5,"s":"J"},{"t":2004.08,"h":12.1,"s":"J"},{"t":2004.12,"h":11.4,"s":"J"},{"t":2004.16,"h":10.6,"s":"J"},{"t":2004.20,"h":9.6,"s":"J"},{"t":2004.23,"h":8.7,"s":"J"},{"t":2004.27,"h":7.0,"s":"J"},{"t":2004.29,"h":5.6,"s":"J"},{"t":2004.32,"h":3.9,"s":"J"},{"t":2004.35,"h":4.7,"s":"J"},{"t":2004.37,"h":5.6,"s":"J"},{"t":2004.40,"h":7.0,"s":"J"},{"t":2004.42,"h":8.7,"s":"J"},{"t":2004.46,"h":10.4,"s":"J"},{"t":2004.50,"h":12.1,"s":"J"},{"t":2004.54,"h":13.7,"s":"J"},{"t":2004.57,"h":15.4,"s":"J"},{"t":2004.63,"h":17.1,"s":"J"},{"t":2004.66,"h":17.8,"s":"J"},{"t":2004.70,"h":18.5,"s":"J"},{"t":2004.75,"h":18.7,"s":"J"},{"t":2004.80,"h":18.8,"s":"J"},{"t":2004.84,"h":18.4,"s":"J"},{"t":2004.88,"h":18.0,"s":"J"},{"t":2004.92,"h":17.6,"s":"J"},{"t":2004.95,"h":17.1,"s":"J"},{"t":2004.99,"h":16.7,"s":"J"},{"t":2005.03,"h":16.3,"s":"J"},{"t":2005.07,"h":15.8,"s":"J"},{"t":2005.10,"h":15.4,"s":"J"},{"t":2005.14,"h":14.8,"s":"J"},{"t":2005.18,"h":14.3,"s":"J"},{"t":2005.22,"h":13.7,"s":"J"},{"t":2005.26,"h":13.2,"s":"J"},{"t":2005.30,"h":12.7,"s":"J"},{"t":2005.33,"h":12.3,"s":"J"},{"t":2005.39,"h":13.2,"s":"J"},{"t":2005.42,"h":14.2,"s":"J"},{"t":2005.45,"h":15.2,"s":"J"},{"t":2005.49,"h":16.3,"s":"J"},{"t":2005.52,"h":17.7,"s":"J"},{"t":2005.56,"h":19.1,"s":"J"},{"t":2005.60,"h":19.9,"s":"J"},{"t":2005.64,"h":20.5,"s":"J"},{"t":2005.70,"h":20.9,"s":"J"},{"t":2005.75,"h":21.1,"s":"J"},{"t":2005.82,"h":21.2,"s":"J"},{"t":2005.90,"h":21.2,"s":"J"},{"t":2005.98,"h":21.1,"s":"J"},{"t":2006.05,"h":20.9,"s":"J"},{"t":2006.11,"h":20.5,"s":"J"},{"t":2006.17,"h":19.9,"s":"J"},{"t":2006.21,"h":19.4,"s":"J"},{"t":2006.25,"h":18.8,"s":"J"},{"t":2006.28,"h":18.1,"s":"J"},{"t":2006.32,"h":17.4,"s":"J"},{"t":2006.36,"h":17.8,"s":"J"},{"t":2006.40,"h":18.3,"s":"J"},{"t":2006.44,"h":19.0,"s":"J"},{"t":2006.47,"h":19.7,"s":"J"},{"t":2006.53,"h":20.3,"s":"J"},{"t":2006.59,"h":20.8,"s":"J"},{"t":2006.66,"h":21.1,"s":"J"},{"t":2006.74,"h":21.2,"s":"J"},{"t":2006.81,"h":21.4,"s":"J"},{"t":2006.89,"h":21.2,"s":"J"},{"t":2006.97,"h":20.8,"s":"J"},{"t":2007.00,"h":20.1,"s":"J"},{"t":2007.04,"h":19.1,"s":"J"},{"t":2007.08,"h":18.1,"s":"J"},{"t":2007.12,"h":17.1,"s":"J"},{"t":2007.16,"h":15.2,"s":"J"},{"t":2007.19,"h":13.5,"s":"J"},{"t":2007.23,"h":12.5,"s":"J"},{"t":2007.26,"h":11.5,"s":"J"},{"t":2007.31,"h":10.6,"s":"J"},{"t":2007.36,"h":11.5,"s":"J"},{"t":2007.41,"h":12.9,"s":"J"},{"t":2007.46,"h":14.9,"s":"J"},{"t":2007.51,"h":16.6,"s":"J"},{"t":2007.57,"h":18.3,"s":"J"},{"t":2007.61,"h":19.1,"s":"J"},{"t":2007.65,"h":19.9,"s":"J"},{"t":2007.70,"h":20.7,"s":"J"},{"t":2007.76,"h":21.4,"s":"J"},{"t":2007.82,"h":21.3,"s":"J"},{"t":2007.88,"h":21.1,"s":"J"},{"t":2007.95,"h":20.2,"s":"J"},{"t":2007.99,"h":19.5,"s":"J"},{"t":2008.03,"h":18.8,"s":"J"},{"t":2008.07,"h":18.1,"s":"J"},{"t":2008.11,"h":17.4,"s":"J"},{"t":2008.14,"h":16.5,"s":"J"},{"t":2008.18,"h":15.7,"s":"J"},{"t":2008.22,"h":15.2,"s":"J"},{"t":2008.26,"h":14.6,"s":"J"},{"t":2008.31,"h":14.0,"s":"J"},{"t":2008.37,"h":13.5,"s":"J"},{"t":2008.42,"h":13.9,"s":"J"},{"t":2008.46,"h":14.6,"s":"J"},
      {"t":2008.48,"h":15.2,"s":"O"},{"t":2008.52,"h":16.3,"s":"O"},{"t":2008.56,"h":17.7,"s":"O"},{"t":2008.60,"h":19.1,"s":"O"},{"t":2008.64,"h":20.5,"s":"O"},{"t":2008.67,"h":21.0,"s":"O"},{"t":2008.71,"h":21.4,"s":"O"},{"t":2008.78,"h":21.4,"s":"O"},{"t":2008.86,"h":21.4,"s":"O"},{"t":2008.94,"h":21.4,"s":"O"},{"t":2009.02,"h":21.4,"s":"O"},{"t":2009.08,"h":21.1,"s":"O"},{"t":2009.13,"h":20.8,"s":"O"},{"t":2009.17,"h":20.3,"s":"O"},{"t":2009.21,"h":19.7,"s":"O"},{"t":2009.24,"h":19.1,"s":"O"},{"t":2009.28,"h":18.5,"s":"O"},{"t":2009.32,"h":18.0,"s":"O"},{"t":2009.36,"h":17.4,"s":"O"},{"t":2009.40,"h":16.7,"s":"O"},{"t":2009.43,"h":16.0,"s":"O"},{"t":2009.47,"h":15.3,"s":"O"},{"t":2009.51,"h":15.9,"s":"O"},{"t":2009.55,"h":16.6,"s":"O"},{"t":2009.58,"h":17.5,"s":"O"},{"t":2009.62,"h":18.3,"s":"O"},{"t":2009.66,"h":18.0,"s":"O"},{"t":2009.70,"h":17.7,"s":"O"},{"t":2009.74,"h":17.0,"s":"O"},{"t":2009.78,"h":16.3,"s":"O"},{"t":2009.81,"h":15.6,"s":"O"},{"t":2009.85,"h":14.9,"s":"O"},{"t":2009.88,"h":14.1,"s":"O"},{"t":2009.91,"h":13.2,"s":"O"},{"t":2009.94,"h":12.4,"s":"O"},{"t":2009.97,"h":11.5,"s":"O"},{"t":2010.00,"h":10.1,"s":"O"},{"t":2010.04,"h":8.7,"s":"O"},{"t":2010.08,"h":7.3,"s":"O"},{"t":2010.12,"h":6.1,"s":"O"},{"t":2010.16,"h":4.7,"s":"O"},{"t":2010.19,"h":3.6,"s":"O"},{"t":2010.23,"h":2.2,"s":"O"},{"t":2010.27,"h":0.8,"s":"O"},{"t":2010.31,"h":-0.6,"s":"O"},{"t":2010.33,"h":-0.3,"s":"O"},{"t":2010.35,"h":0.0,"s":"O"},{"t":2010.38,"h":2.2,"s":"O"},{"t":2010.42,"h":3.9,"s":"O"},{"t":2010.44,"h":6.0,"s":"O"},{"t":2010.48,"h":8.1,"s":"O"},{"t":2010.52,"h":10.4,"s":"O"},{"t":2010.57,"h":12.6,"s":"O"},{"t":2010.60,"h":14.7,"s":"O"},{"t":2010.61,"h":16.6,"s":"O"},{"t":2010.63,"h":18.3,"s":"O"},{"t":2010.67,"h":20.0,"s":"O"},{"t":2010.71,"h":20.7,"s":"O"},{"t":2010.76,"h":21.1,"s":"O"},{"t":2010.84,"h":21.2,"s":"O"},{"t":2010.92,"h":21.2,"s":"O"},{"t":2010.97,"h":20.9,"s":"O"},{"t":2011.03,"h":20.5,"s":"O"},{"t":2011.08,"h":19.8,"s":"O"},{"t":2011.14,"h":19.1,"s":"O"},{"t":2011.18,"h":18.4,"s":"O"},{"t":2011.22,"h":17.7,"s":"O"},{"t":2011.26,"h":17.2,"s":"O"},{"t":2011.29,"h":16.8,"s":"O"},{"t":2011.33,"h":17.2,"s":"O"},{"t":2011.37,"h":17.7,"s":"O"},{"t":2011.42,"h":18.4,"s":"O"},{"t":2011.48,"h":19.1,"s":"O"},{"t":2011.54,"h":19.7,"s":"O"},{"t":2011.60,"h":20.2,"s":"O"},{"t":2011.67,"h":20.7,"s":"O"},{"t":2011.75,"h":21.1,"s":"O"},{"t":2011.80,"h":21.3,"s":"O"},{"t":2011.86,"h":21.4,"s":"O"},{"t":2011.92,"h":21.1,"s":"O"},{"t":2011.98,"h":20.8,"s":"O"},{"t":2012.03,"h":20.4,"s":"O"},{"t":2012.09,"h":19.9,"s":"O"},{"t":2012.15,"h":19.5,"s":"O"},{"t":2012.21,"h":19.1,"s":"O"},{"t":2012.28,"h":18.8,"s":"O"},{"t":2012.34,"h":19.1,"s":"O"},{"t":2012.40,"h":19.4,"s":"O"},{"t":2012.45,"h":19.6,"s":"O"},{"t":2012.51,"h":19.9,"s":"O"},{"t":2012.57,"h":20.2,"s":"O"},{"t":2012.62,"h":20.5,"s":"O"},{"t":2012.68,"h":20.8,"s":"O"},{"t":2012.74,"h":21.1,"s":"O"},{"t":2012.81,"h":20.5,"s":"O"},{"t":2012.85,"h":20.1,"s":"O"},{"t":2012.89,"h":19.7,"s":"O"},{"t":2012.93,"h":19.0,"s":"O"},{"t":2012.97,"h":18.3,"s":"O"},{"t":2013.00,"h":17.5,"s":"O"},{"t":2013.04,"h":16.6,"s":"O"},{"t":2013.07,"h":15.9,"s":"O"},{"t":2013.10,"h":15.2,"s":"O"},{"t":2013.15,"h":13.7,"s":"O"},{"t":2013.21,"h":12.3,"s":"O"},{"t":2013.27,"h":10.9,"s":"O"},{"t":2013.33,"h":10.1,"s":"O"},{"t":2013.38,"h":10.9,"s":"O"},{"t":2013.42,"h":12.1,"s":"O"},{"t":2013.46,"h":13.7,"s":"O"},{"t":2013.50,"h":14.9,"s":"O"},{"t":2013.53,"h":16.6,"s":"O"},{"t":2013.57,"h":18.0,"s":"O"},{"t":2013.63,"h":19.7,"s":"O"},{"t":2013.69,"h":20.5,"s":"O"},{"t":2013.76,"h":21.4,"s":"O"}
    ],
    "annot": [
      {"t": 2004.51, "h": 6.08, "label": "2010 Drought\nApproaching the\nreservoir “Dead\nLevel”"}
    ],
    "arrow": [
      {"t": 2006.99, "h": 25.12, "t2": 2009.547, "h2": 1.04},
      {"t": 2009.016, "h": 2.58, "t2": 2009.547, "h2": 1.04},
      {"t": 2009.60, "h": 3.43, "t2": 2009.547, "h2": 1.04}
    ],
    "legendtext": [
      {"t": 1990.724, "h": -10.55, "s": "T", "label": "*** TOPEX/Poseidon historical archive"},
      {"t": 1990.724, "h": -12.44, "s": "J", "label": "*** Jason-1 Interim GDR 20hz altimetry"},
      {"t": 1990.724, "h": -14.34, "s": "O", "label": "*** OSTM\u00a0 Interim GDR 20hz altimetry( ice mode)"}
    ],
    "version": [
      {"t": 2004.80, "h": -11.94, "label": "Version TPJO.2"},
      {"t": 2004.80, "h": -14.30, "label": "Last valid elevation: 13 Oct.,\u00a0 2013"}
    ]
  },
  "vconcat": [
    {
      "width": 966,
      "height": 318,
      "resolve": {"axis": {"x": "independent", "y": "independent"}},
      "layer": [
        {
          "data": {"name": "top"},
          "mark": {"type": "circle", "size": 40, "opacity": 1},
          "encoding": {
            "x": {"field": "t", "type": "quantitative", "scale": {"domain": [1992, 2014], "nice": false, "zero": false},
                  "axis": {"orient": "bottom", "tickCount": 220, "tickSize": -2.5, "labels": false, "title": null}},
            "y": {"field": "h", "type": "quantitative", "scale": {"domain": [-5, 22.9], "nice": false, "zero": false},
                  "axis": {"orient": "left", "values": [-5, 0, 5, 10, 15, 20], "tickSize": -16, "labelPadding": 24,
                           "labelExpr": "datum.value < 0 ? '-' + format(-datum.value, '.1f') : format(datum.value, '.1f')",
                           "title": "Height Variation (m)", "titleFont": "Liberation Serif", "titleFontSize": 31, "titleFontWeight": "normal", "titlePadding": 19}},
            "color": {"field": "s", "type": "nominal", "scale": {"domain": ["T", "J", "O"], "range": ["#0000ff", "#ff2a1a", "#5c0b99"]}, "legend": null}
          }
        },
        {
          "data": {"name": "annot"},
          "mark": {"type": "text", "align": "left", "baseline": "alphabetic", "font": "Liberation Serif", "fontSize": 32, "color": "#138613", "lineBreak": "\n", "lineHeight": 37.5},
          "encoding": {
            "x": {"field": "t", "type": "quantitative", "scale": {"domain": [1992, 2014], "nice": false, "zero": false},
                  "axis": {"orient": "bottom", "values": [1992,1993,1994,1995,1996,1997,1998,1999,2000,2001,2002,2003,2004,2005,2006,2007,2008,2009,2010,2011,2012,2013,2014], "tickSize": -6, "labels": false, "title": null}},
            "y": {"field": "h", "type": "quantitative", "scale": {"domain": [-5, 22.9], "nice": false, "zero": false},
                  "axis": {"orient": "left", "values": [-5,-3.75,-2.5,-1.25,0,1.25,2.5,3.75,5,6.25,7.5,8.75,10,11.25,12.5,13.75,15,16.25,17.5,18.75,20,21.25,22.5], "tickSize": -8, "labels": false, "title": null}},
            "text": {"field": "label"}
          }
        },
        {
          "data": {"name": "annot"},
          "mark": {"type": "point", "opacity": 0},
          "encoding": {
            "x": {"field": "t", "type": "quantitative", "scale": {"domain": [1992, 2014], "nice": false, "zero": false},
                  "axis": {"orient": "top", "tickCount": 220, "tickSize": -2.5, "labels": false, "title": null}},
            "y": {"field": "h", "type": "quantitative", "scale": {"domain": [-5, 22.9], "nice": false, "zero": false},
                  "axis": {"orient": "right", "values": [-5, 0, 5, 10, 15, 20], "tickSize": -16, "labels": false, "title": null}}
          }
        },
        {
          "data": {"name": "annot"},
          "mark": {"type": "point", "opacity": 0},
          "encoding": {
            "x": {"field": "t", "type": "quantitative", "scale": {"domain": [1992, 2014], "nice": false, "zero": false},
                  "axis": {"orient": "top", "values": [1992,1993,1994,1995,1996,1997,1998,1999,2000,2001,2002,2003,2004,2005,2006,2007,2008,2009,2010,2011,2012,2013,2014], "tickSize": -6, "labels": false, "title": null}},
            "y": {"field": "h", "type": "quantitative", "scale": {"domain": [-5, 22.9], "nice": false, "zero": false},
                  "axis": {"orient": "right", "values": [-5,-3.75,-2.5,-1.25,0,1.25,2.5,3.75,5,6.25,7.5,8.75,10,11.25,12.5,13.75,15,16.25,17.5,18.75,20,21.25,22.5], "tickSize": -8, "labels": false, "title": null}}
          }
        }
      ]
    },
    {
      "width": 966,
      "height": 321,
      "resolve": {"axis": {"x": "independent", "y": "independent"}},
      "layer": [
        {
          "data": {"name": "bottom"},
          "mark": {"type": "point", "shape": "M-1,-1L1,1M-1,1L1,-1M0,-1L0,1", "filled": false, "size": 100, "strokeWidth": 1.2, "opacity": 0.85},
          "encoding": {
            "x": {"field": "t", "type": "quantitative", "scale": {"domain": [1992, 2014], "nice": false, "zero": false},
                  "axis": {"orient": "bottom", "values": [1992,1993,1994,1995,1996,1997,1998,1999,2000,2001,2002,2003,2004,2005,2006,2007,2008,2009,2010,2011,2012,2013,2014], "format": "d", "tickSize": -7, "labelPadding": 26, "labelBaseline": "top", "labelFontSize": 26,
                           "labelExpr": "datum.value % 2 == 0 ? datum.label : ''", "title": null}},
            "y": {"field": "h", "type": "quantitative", "scale": {"domain": [-5.1, 22.0], "nice": false, "zero": false},
                  "axis": {"orient": "left", "values": [-5, 0, 5, 10, 15, 20], "tickSize": -16, "labelPadding": 24,
                           "labelExpr": "datum.value < 0 ? '-' + format(-datum.value, '.1f') : format(datum.value, '.1f')",
                           "title": "Height Variation (m)", "titleFont": "Liberation Serif", "titleFontSize": 31, "titleFontWeight": "normal", "titlePadding": 19}},
            "color": {"field": "s", "type": "nominal", "scale": {"domain": ["T", "J", "O"], "range": ["#2a2aff", "#ff3322", "#6624a6"]}, "legend": null}
          }
        },
        {
          "data": {"name": "arrow"},
          "mark": {"type": "rule", "color": "#0b7d0b", "strokeWidth": 5, "strokeCap": "round"},
          "encoding": {
            "x": {"field": "t", "type": "quantitative", "scale": {"domain": [1992, 2014], "nice": false, "zero": false},
                  "axis": {"orient": "top", "values": [1992,1993,1994,1995,1996,1997,1998,1999,2000,2001,2002,2003,2004,2005,2006,2007,2008,2009,2010,2011,2012,2013,2014], "tickSize": -6, "labels": false, "title": null}},
            "y": {"field": "h", "type": "quantitative", "scale": {"domain": [-5.1, 22.0], "nice": false, "zero": false},
                  "axis": {"orient": "left", "values": [-5,-3.75,-2.5,-1.25,0,1.25,2.5,3.75,5,6.25,7.5,8.75,10,11.25,12.5,13.75,15,16.25,17.5,18.75,20,21.25], "tickSize": -8, "labels": false, "title": null}},
            "x2": {"field": "t2"},
            "y2": {"field": "h2"}
          }
        },
        {
          "data": {"name": "legendtext"},
          "mark": {"type": "text", "align": "left", "baseline": "alphabetic", "font": "Liberation Serif", "fontSize": 21},
          "encoding": {
            "x": {"field": "t", "type": "quantitative", "scale": {"domain": [1992, 2014], "nice": false, "zero": false}, "axis": null},
            "y": {"field": "h", "type": "quantitative", "scale": {"domain": [-5.1, 22.0], "nice": false, "zero": false},
                  "axis": {"orient": "right", "values": [-5, 0, 5, 10, 15, 20], "tickSize": -16, "labels": false, "title": null}},
            "text": {"field": "label"},
            "color": {"field": "s", "type": "nominal", "scale": {"domain": ["T", "J", "O"], "range": ["#2a2aff", "#ff3322", "#6624a6"]}, "legend": null}
          }
        },
        {
          "data": {"name": "version"},
          "mark": {"type": "text", "align": "left", "baseline": "alphabetic", "font": "Liberation Serif", "fontSize": 26.5, "color": "#111111"},
          "encoding": {
            "x": {"field": "t", "type": "quantitative", "scale": {"domain": [1992, 2014], "nice": false, "zero": false}, "axis": null},
            "y": {"field": "h", "type": "quantitative", "scale": {"domain": [-5.1, 22.0], "nice": false, "zero": false},
                  "axis": {"orient": "right", "values": [-5,-3.75,-2.5,-1.25,0,1.25,2.5,3.75,5,6.25,7.5,8.75,10,11.25,12.5,13.75,15,16.25,17.5,18.75,20,21.25], "tickSize": -8, "labels": false, "title": null}},
            "text": {"field": "label"}
          }
        }
      ]
    }
  ]
}
